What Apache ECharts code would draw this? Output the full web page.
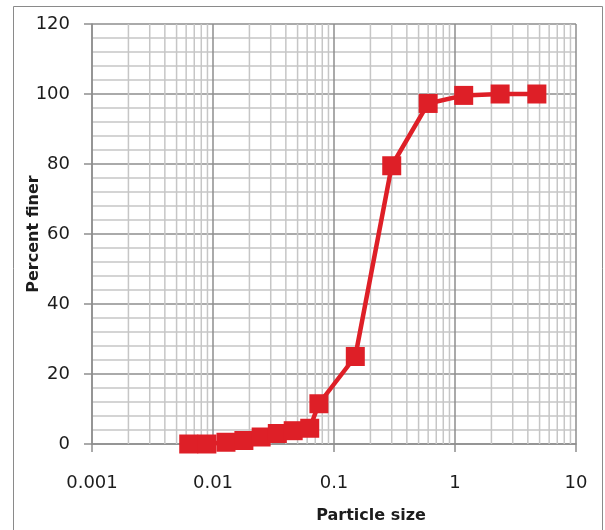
<!DOCTYPE html>
<html>
<head>
<meta charset="utf-8">
<script src="https://cdn.jsdelivr.net/npm/echarts@6/dist/echarts.min.js"></script>
<style>
  html, body { margin: 0; padding: 0; background: #ffffff; }
  #chart { width: 605px; height: 530px; }
</style>
</head>
<body>
<div id="chart"></div>
<script>
// Grain-size distribution: particle size (mm, log scale) vs percent finer
const particleSize = [0.0063, 0.0089, 0.0128, 0.018, 0.025, 0.034, 0.046, 0.063, 0.075, 0.15, 0.3, 0.6, 1.18, 2.36, 4.75];
const percentFiner = [0, 0, 0.5, 1, 2, 3, 3.8, 4.5, 11.5, 25, 79.5, 97.3, 99.6, 100, 100];
const xTickLabels = ['0.001', '0.01', '0.1', '1', '10'];
const yTickLabels = ['0', '20', '40', '60', '80', '100', '120'];
// Minor vertical grid positions inside each decade
const minorGridX = [
  0.002, 0.003, 0.004, 0.005, 0.006, 0.007, 0.008, 0.009,
  0.02, 0.03, 0.04, 0.05, 0.06, 0.07, 0.08, 0.09,
  0.2, 0.3, 0.4, 0.5, 0.6, 0.7, 0.8, 0.9,
  2, 3, 4, 5, 6, 7, 8, 9
];

const RED = '#de1f27';
const MAJOR = '#8e8e8e';
const MINOR = '#c6c6c6';
const TEXT = '#1c1c1c';

const chart = echarts.init(document.getElementById('chart'), null, { renderer: 'canvas' });

chart.setOption({
  animation: false,
  backgroundColor: '#ffffff',
  graphic: [{
    type: 'rect',
    shape: { x: 13.5, y: 6.5, width: 589, height: 540 },
    style: { fill: null, stroke: '#8a8a8a', lineWidth: 1 },
    silent: true,
    z: -10
  }],
  grid: { left: 92, right: 29, top: 24, bottom: 86, containLabel: false },
  xAxis: {
    type: 'log',
    logBase: 10,
    min: 0.001,
    max: 10,
    name: 'Particle size',
    nameLocation: 'middle',
    nameGap: 64,
    nameMoveOverlap: false,
    nameTextStyle: {
      fontFamily: 'DejaVu Sans', fontWeight: 'bold', fontSize: 16, color: TEXT,
      padding: [0, 0, 0, 74]
    },
    axisLine: { show: true, onZero: false, lineStyle: { color: MAJOR, width: 1.5 } },
    axisTick: { show: true, inside: false, length: 8, lineStyle: { color: MAJOR, width: 1.5 } },
    axisLabel: {
      margin: 30,
      fontFamily: 'DejaVu Sans', fontSize: 18, color: TEXT,
      formatter: (v, i) => xTickLabels[i] !== undefined ? xTickLabels[i] : ''
    },
    splitLine: { show: true, lineStyle: { color: MAJOR, width: 1.5 } },
    minorTick: { show: false },
    minorSplitLine: { show: false }
  },
  yAxis: {
    type: 'value',
    min: 0,
    max: 120,
    interval: 20,
    name: 'Percent finer',
    nameLocation: 'middle',
    nameGap: 50,
    nameRotate: 90,
    nameMoveOverlap: false,
    nameTextStyle: { fontFamily: 'DejaVu Sans', fontWeight: 'bold', fontSize: 16, color: TEXT },
    axisLine: { show: true, lineStyle: { color: MAJOR, width: 1.5 } },
    axisTick: { show: true, inside: false, length: 8, lineStyle: { color: MAJOR, width: 1.5 } },
    axisLabel: {
      margin: 22,
      fontFamily: 'DejaVu Sans', fontSize: 18, color: TEXT,
      formatter: (v, i) => yTickLabels[i] !== undefined ? yTickLabels[i] : ''
    },
    splitLine: { show: true, lineStyle: { color: MAJOR, width: 1.5 } },
    minorTick: { show: false, splitNumber: 5 },
    minorSplitLine: { show: true, lineStyle: { color: MINOR, width: 1.5 } }
  },
  series: [
    {
      // light vertical grid lines at 2..9 within each decade
      type: 'custom',
      silent: true,
      z: 1,
      data: minorGridX,
      encode: { x: 0 },
      renderItem: (params, api) => {
        const v = api.value(0);
        const p0 = api.coord([v, 0]);
        const p1 = api.coord([v, 120]);
        return {
          type: 'line',
          shape: { x1: p0[0], y1: p0[1], x2: p1[0], y2: p1[1] },
          style: { stroke: MINOR, lineWidth: 1.5 }
        };
      }
    },
    {
      type: 'line',
      z: 5,
      data: particleSize.map((x, i) => [x, percentFiner[i]]),
      symbol: 'rect',
      symbolSize: 19,
      lineStyle: { color: RED, width: 4.5 },
      itemStyle: { color: RED },
      clip: false
    }
  ]
});
</script>
</body>
</html>
